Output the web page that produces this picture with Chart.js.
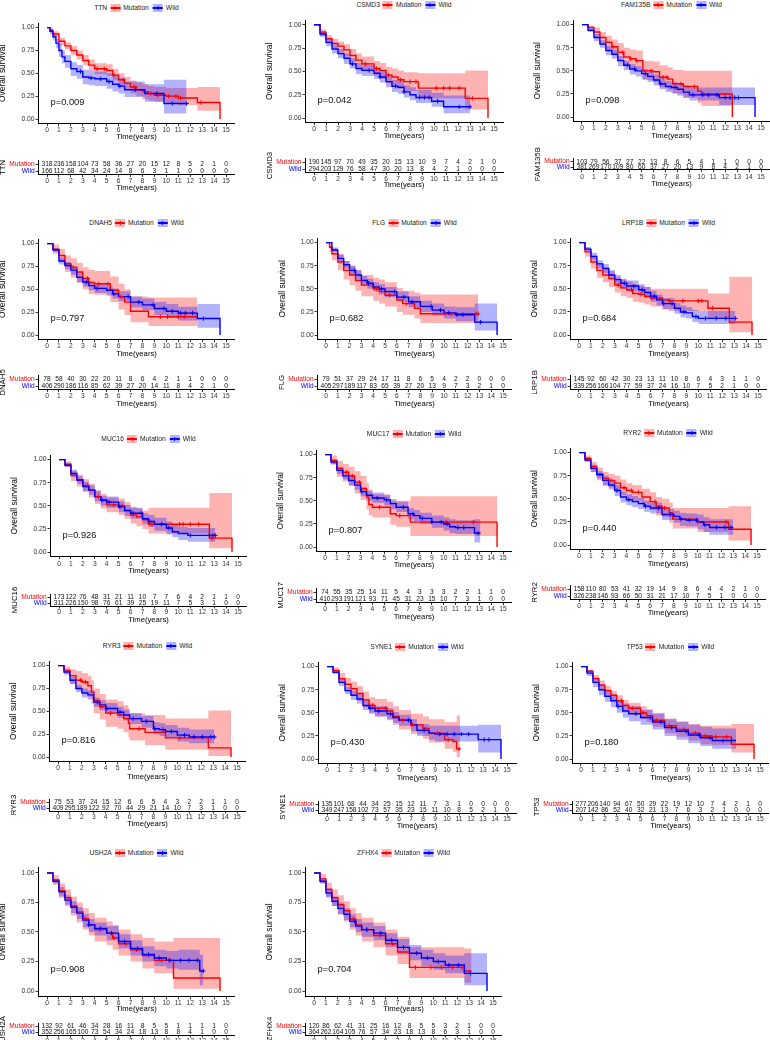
<!DOCTYPE html>
<html><head><meta charset="utf-8">
<script src="https://cdn.jsdelivr.net/npm/chart.js@4.4.1/dist/chart.umd.min.js"></script>
<style>
html,body{margin:0;padding:0;background:#fff;}
body{width:770px;height:1040px;overflow:hidden;position:relative;font-family:"Liberation Sans",Arial,sans-serif;}
canvas{position:absolute;}
.leg{position:absolute;display:flex;align-items:center;white-space:nowrap;font-size:6.7px;color:#222;transform:translate(-50%,-50%);line-height:1;}
.sw{position:relative;display:inline-block;width:10px;height:8px;margin:0 3px 0 3px;}
.sw::before{content:"";position:absolute;left:0;right:0;top:3.4px;height:1.3px;}
.sw::after{content:"";position:absolute;left:4.4px;width:1px;top:2px;height:4px;}
.sw.r{background:rgba(255,0,0,0.3);} .sw.r::before,.sw.r::after{background:#f00;}
.sw.b{background:rgba(0,0,255,0.3);margin-left:4px;} .sw.b::before,.sw.b::after{background:#00f;}
</style>
</head><body>
<script>
// ---------------- DATA ----------------
const years = [0,1,2,3,4,5,6,7,8,9,10,11,12,13,14,15];
const yTicks = [0,0.25,0.5,0.75,1];
const genes = ['TTN','CSMD3','FAM135B','DNAH5','FLG','LRP1B','MUC16','MUC17','RYR2','RYR3','SYNE1','TP53','USH2A','ZFHX4'];
const pValues = ['0.009','0.042','0.098','0.797','0.682','0.684','0.926','0.807','0.440','0.816','0.430','0.180','0.908','0.704'];

// numbers at risk
const risk_TTN_mut = [318,236,158,104,73,58,36,27,20,15,12,8,5,2,1,0];
const risk_TTN_wild = [166,112,68,42,34,24,14,8,6,3,1,1,0,0,0,0];
const risk_CSMD3_mut = [190,145,97,70,49,35,20,15,13,10,9,7,4,2,1,0];
const risk_CSMD3_wild = [294,203,129,76,58,47,30,20,13,8,4,2,1,0,0,0];
const risk_FAM135B_mut = [103,79,56,37,27,22,13,8,6,5,4,1,1,0,0,0];
const risk_FAM135B_wild = [381,269,170,109,80,60,37,27,20,13,9,8,4,2,1,0];
const risk_DNAH5_mut = [78,58,40,30,22,20,11,8,6,4,2,1,1,0,0,0];
const risk_DNAH5_wild = [406,290,186,116,85,62,39,27,20,14,11,8,4,2,1,0];
const risk_FLG_mut = [79,51,37,29,24,17,11,8,6,5,4,2,2,0,0,0];
const risk_FLG_wild = [405,297,189,117,83,65,39,27,20,13,9,7,3,2,1,0];
const risk_LRP1B_mut = [145,92,60,42,30,23,13,11,10,8,6,4,3,1,1,0];
const risk_LRP1B_wild = [339,256,166,104,77,59,37,24,16,10,7,5,2,1,0,0];
const risk_MUC16_mut = [173,122,76,48,31,21,11,10,7,7,6,4,2,1,1,0];
const risk_MUC16_wild = [311,226,150,98,76,61,39,25,19,11,7,5,3,1,0,0];
const risk_MUC17_mut = [74,55,35,25,14,11,5,4,3,3,3,2,2,1,1,0];
const risk_MUC17_wild = [410,293,191,121,93,71,45,31,23,15,10,7,3,1,0,0];
const risk_RYR2_mut = [158,110,80,53,41,32,19,14,9,8,6,4,4,2,1,0];
const risk_RYR2_wild = [326,238,146,93,66,50,31,21,17,10,7,5,1,0,0,0];
const risk_RYR3_mut = [75,53,37,24,15,12,6,6,5,4,3,2,2,1,1,0];
const risk_RYR3_wild = [409,295,189,122,92,70,44,29,21,14,10,7,3,1,0,0];
const risk_SYNE1_mut = [135,101,68,44,34,25,15,12,11,7,3,1,0,0,0,0];
const risk_SYNE1_wild = [349,247,158,102,73,57,35,23,15,11,10,8,5,2,1,0];
const risk_TP53_mut = [277,206,140,94,67,50,29,22,19,12,10,7,4,2,1,0];
const risk_TP53_wild = [207,142,86,52,40,32,21,13,7,6,3,2,1,0,0,0];
const risk_USH2A_mut = [132,92,61,46,34,28,16,11,8,5,5,1,1,1,1,0];
const risk_USH2A_wild = [352,256,165,100,73,54,34,24,18,13,8,8,4,1,0,0];
const risk_ZFHX4_mut = [120,86,62,41,31,25,16,12,8,5,5,3,2,1,0,0];
const risk_ZFHX4_wild = [364,262,164,105,76,57,34,23,18,13,8,6,3,1,0,0];

// Kaplan-Meier steps: [time, survival, lower CI, upper CI]
const km_TTN_mut = [[0,1,1,1],[0.25,.97,.95,.99],[0.5,.93,.90,.96],[1,.85,.81,.89],[1.5,.80,.76,.84],[2,.75,.70,.80],[2.5,.70,.65,.75],[3,.64,.59,.70],[3.5,.59,.53,.65],[4,.55,.49,.61],[5,.53,.47,.60],[5.5,.48,.42,.55],[6,.43,.36,.50],[6.5,.39,.32,.46],[7,.35,.28,.42],[7.5,.32,.25,.40],[8,.30,.22,.38],[8.5,.28,.20,.36],[9,.26,.19,.35],[10,.25,.17,.34],[11,.23,.15,.34],[12.6,.18,.09,.35],[14.5,0,.09,.35]];
const km_TTN_wild = [[0,1,1,1],[0.25,.96,.93,.99],[0.5,.90,.86,.94],[0.75,.83,.78,.88],[1,.75,.68,.82],[1.25,.68,.61,.75],[1.5,.63,.56,.70],[2,.55,.47,.62],[2.5,.52,.44,.59],[3,.46,.38,.54],[3.5,.45,.37,.53],[4,.44,.36,.52],[5,.41,.33,.50],[5.5,.38,.30,.47],[6,.36,.28,.45],[6.5,.32,.24,.41],[8.2,.28,.19,.38],[9.8,.17,.06,.43],[11.7,.17,.06,.43]];
const cens_TTN_mut = [4.2,4.8,5.6,6.4,7.3,8.7,9.3,10.2,10.8,11.2,12.9];
const cens_TTN_wild = [2.8,3.7,4.5,5.2,6.1,7.4,9.2,10.5,11.7];

const km_CSMD3_mut = [[0,1,1,1],[0.5,.92,.88,.95],[1,.85,.80,.89],[1.5,.80,.75,.85],[2,.77,.70,.82],[2.5,.73,.66,.79],[3,.67,.60,.74],[3.5,.62,.54,.69],[4,.58,.50,.66],[5,.53,.45,.61],[5.5,.51,.42,.59],[6,.46,.37,.55],[6.5,.44,.35,.53],[7,.41,.31,.51],[7.5,.39,.29,.49],[8.7,.32,.21,.48],[12.6,.21,.09,.51],[14.5,0,.09,.51]];
const km_CSMD3_wild = [[0,1,1,1],[0.5,.90,.87,.93],[1,.81,.77,.85],[1.5,.74,.69,.79],[2,.69,.64,.74],[2.5,.64,.58,.69],[3,.58,.53,.64],[3.5,.53,.47,.59],[4,.51,.45,.57],[5,.48,.42,.54],[5.5,.44,.38,.50],[6,.39,.33,.46],[6.5,.34,.28,.41],[7,.33,.26,.40],[7.5,.28,.22,.35],[8,.25,.19,.33],[8.5,.22,.16,.30],[9.8,.18,.12,.27],[10.8,.12,.05,.24],[13,.12,.05,.24]];
const cens_CSMD3_mut = [4.3,5.2,6.2,7.2,8.0,8.5,10.2,10.8,11.3,12.1,13.2];
const cens_CSMD3_wild = [3.2,4.6,5.5,6.8,7.5,8.8,9.2,9.6,10.3,12.1,13];

const km_FAM135B_mut = [[0,1,1,1],[0.5,.97,.94,.99],[1,.92,.87,.97],[1.5,.86,.80,.92],[2,.81,.73,.88],[2.5,.76,.67,.84],[3,.70,.61,.80],[3.5,.65,.55,.75],[4,.63,.53,.73],[4.5,.61,.51,.72],[5.1,.50,.40,.61],[6,.49,.38,.60],[6.5,.43,.32,.56],[7.2,.41,.29,.54],[7.6,.36,.25,.51],[8.5,.33,.21,.50],[9.7,.28,.15,.50],[10,.25,.12,.50],[12.6,0,.12,.50]];
const km_FAM135B_wild = [[0,1,1,1],[0.5,.94,.92,.96],[1,.86,.82,.90],[1.5,.79,.75,.83],[2,.72,.67,.77],[2.5,.68,.63,.73],[3,.61,.55,.66],[3.5,.56,.51,.61],[4,.52,.46,.57],[4.5,.50,.44,.55],[5,.47,.41,.52],[5.5,.44,.38,.49],[6,.40,.34,.46],[6.5,.36,.30,.42],[7,.33,.27,.39],[7.5,.32,.26,.38],[8,.30,.23,.36],[8.5,.27,.21,.34],[9,.24,.18,.32],[11.5,.21,.13,.32],[14.5,0,.13,.32]];
const cens_FAM135B_mut = [2.6,3.4,4.1,4.6,5.8,6.8,7.1,8.3,9.4,10.2];
const cens_FAM135B_wild = [3.8,4.4,5.3,6.6,7.8,9.3,10.1,10.6,11.3,12.0,12.4,12.8,13.1];

const km_DNAH5_mut = [[0,1,1,1],[0.5,.94,.89,.99],[1,.87,.80,.94],[1.5,.78,.69,.87],[2,.74,.63,.84],[2.5,.69,.57,.79],[3,.62,.50,.74],[3.5,.57,.45,.71],[4,.56,.44,.70],[5.3,.49,.36,.64],[6,.42,.28,.56],[6.5,.36,.22,.50],[7,.26,.14,.42],[8.5,.20,.10,.41],[12.6,.20,.10,.41]];
const km_DNAH5_wild = [[0,1,1,1],[0.5,.93,.91,.95],[1,.81,.77,.85],[1.5,.76,.72,.80],[2,.71,.66,.75],[2.5,.63,.58,.68],[3,.58,.53,.63],[3.5,.54,.49,.59],[4,.51,.46,.56],[5,.49,.43,.54],[5.5,.45,.40,.51],[6,.42,.37,.48],[7,.36,.30,.42],[8,.33,.27,.40],[9,.29,.22,.36],[10,.26,.19,.34],[11,.24,.16,.31],[12.6,.18,.08,.34],[14.5,0,.08,.34]];
const cens_DNAH5_mut = [2.2,3.4,4.3,5.1,6.2,9.5,10.1,11.0,11.5];
const cens_DNAH5_wild = [3.3,4.2,5.6,6.8,7.7,8.9,9.8,10.5,11.2,11.6,12.2,13.1];

const km_FLG_mut = [[0,1,1,1],[0.3,.95,.90,.99],[0.5,.88,.81,.95],[1,.79,.70,.88],[1.5,.70,.60,.80],[2,.65,.54,.75],[2.5,.59,.48,.70],[3,.54,.42,.65],[4,.50,.37,.62],[4.5,.47,.34,.60],[5,.43,.31,.57],[6,.38,.25,.51],[6.5,.34,.22,.48],[7.5,.29,.18,.46],[8,.23,.13,.44],[12.9,.23,.13,.44]];
const km_FLG_wild = [[0,1,1,1],[0.5,.92,.90,.94],[1,.83,.79,.87],[1.5,.76,.72,.80],[2,.70,.65,.75],[2.5,.65,.60,.70],[3,.59,.54,.64],[3.5,.56,.50,.61],[4,.52,.47,.57],[4.5,.50,.44,.55],[5,.47,.41,.52],[6,.41,.36,.47],[7,.36,.30,.42],[8,.31,.25,.37],[9,.27,.21,.34],[10,.24,.18,.31],[11,.22,.15,.30],[12.6,.14,.05,.34],[14.5,0,.05,.34]];
const cens_FLG_mut = [4.3,5.4,6.8,10.1,10.6,12.7,12.9];
const cens_FLG_wild = [2.4,3.6,4.7,5.8,6.6,7.3,8.9,9.7,10.4,11.1,11.6,13.1];

const km_LRP1B_mut = [[0,1,1,1],[0.5,.90,.85,.95],[1,.79,.72,.86],[1.5,.70,.62,.78],[2,.65,.57,.73],[2.5,.61,.52,.69],[3,.54,.46,.63],[3.5,.51,.42,.60],[4,.49,.40,.58],[4.5,.45,.36,.55],[5,.44,.35,.53],[5.5,.42,.33,.52],[6,.40,.31,.50],[7,.38,.28,.50],[7.5,.37,.26,.50],[10.8,.29,.18,.45],[12.6,.14,.03,.63],[14.5,0,.03,.63]];
const km_LRP1B_wild = [[0,1,1,1],[0.5,.93,.91,.95],[1,.85,.81,.89],[1.5,.77,.72,.81],[2,.72,.67,.77],[2.5,.65,.60,.70],[3,.60,.54,.65],[3.5,.56,.50,.61],[4,.53,.47,.59],[5,.49,.43,.55],[5.5,.46,.40,.52],[6,.42,.36,.48],[6.5,.38,.32,.44],[7,.34,.28,.40],[8,.29,.23,.35],[8.5,.25,.19,.32],[9,.24,.18,.30],[9.5,.20,.14,.27],[10,.18,.12,.26],[13.1,.18,.12,.26]];
const cens_LRP1B_mut = [3.3,4.4,5.2,6.1,7.6,8.7,10.0,10.3,11.2];
const cens_LRP1B_wild = [3.8,4.6,5.3,6.3,7.1,7.8,8.8,9.8,10.6,11.5,12.3,13.1];

const km_MUC16_mut = [[0,1,1,1],[0.5,.95,.92,.98],[1,.83,.77,.88],[1.5,.78,.71,.84],[2,.72,.65,.79],[2.5,.67,.59,.74],[3,.60,.52,.67],[3.5,.56,.47,.63],[4,.51,.43,.59],[5,.50,.40,.58],[5.5,.45,.36,.54],[6,.40,.31,.49],[6.5,.38,.28,.47],[7,.35,.25,.45],[7.5,.30,.20,.48],[12.6,.15,.04,.64],[14.5,0,.04,.64]];
const km_MUC16_wild = [[0,1,1,1],[0.5,.94,.92,.96],[1,.85,.81,.89],[1.5,.78,.74,.82],[2,.71,.66,.76],[2.5,.67,.62,.72],[3,.60,.55,.66],[3.5,.56,.50,.61],[4,.54,.48,.60],[5,.49,.43,.55],[5.5,.45,.39,.51],[6,.42,.36,.48],[7,.36,.30,.42],[7.5,.33,.27,.40],[8,.30,.23,.37],[9,.26,.19,.33],[9.5,.22,.16,.30],[10,.20,.13,.27],[10.8,.18,.11,.26],[13.1,.18,.11,.26]];
const cens_MUC16_mut = [2.4,3.3,4.6,5.3,7.8,10.1,10.4,11.0,11.7,12.8];
const cens_MUC16_wild = [3.6,4.2,5.1,6.2,6.9,7.6,8.6,9.2,11.0,12.6,12.9,13.1];

const km_MUC17_mut = [[0,1,1,1],[0.5,.94,.89,.99],[1,.85,.76,.93],[1.5,.81,.71,.90],[2,.77,.66,.87],[2.5,.70,.58,.82],[3,.63,.51,.77],[3.5,.54,.41,.69],[3.7,.46,.34,.62],[4,.43,.32,.57],[5.5,.36,.24,.50],[6,.34,.22,.50],[7.2,.27,.12,.55],[14.5,0,.12,.55]];
const km_MUC17_wild = [[0,1,1,1],[0.5,.92,.90,.94],[1,.83,.79,.87],[1.5,.77,.73,.81],[2,.72,.67,.77],[2.5,.67,.62,.72],[3,.60,.55,.65],[3.5,.56,.50,.61],[4,.53,.48,.59],[5,.51,.45,.56],[5.5,.47,.41,.52],[6,.43,.38,.49],[7,.36,.30,.42],[7.5,.34,.28,.40],[8,.31,.25,.37],[9,.27,.21,.34],[10,.25,.18,.32],[10.5,.22,.15,.30],[11,.21,.14,.29],[12.6,.15,.05,.30],[13.1,.15,.05,.30]];
const cens_MUC17_mut = [1.8,2.3,2.9,4.6,6.3,10.2,12.5];
const cens_MUC17_wild = [3.1,4.4,5.2,6.6,7.4,8.2,9.0,9.8,10.3,11.2,11.7,12.9];

const km_RYR2_mut = [[0,1,1,1],[0.5,.94,.91,.97],[1,.85,.79,.90],[1.5,.77,.70,.84],[2,.72,.64,.79],[2.5,.70,.62,.77],[3,.67,.59,.75],[3.5,.62,.54,.71],[4,.59,.50,.67],[4.5,.57,.48,.65],[5.3,.52,.43,.61],[6,.47,.38,.57],[6.5,.42,.32,.52],[7,.40,.30,.50],[7.6,.35,.24,.46],[7.9,.28,.18,.40],[10,.25,.14,.40],[12.6,.17,.05,.42],[14.5,0,.05,.42]];
const km_RYR2_wild = [[0,1,1,1],[0.5,.92,.90,.94],[1,.83,.79,.87],[1.5,.76,.72,.80],[2,.70,.65,.75],[2.5,.65,.60,.70],[3,.59,.53,.65],[3.5,.52,.46,.58],[4,.49,.43,.55],[4.5,.47,.41,.53],[5,.45,.39,.51],[5.5,.42,.36,.48],[6,.40,.34,.46],[7,.33,.27,.39],[8,.31,.24,.37],[8.5,.28,.21,.35],[9,.27,.20,.34],[10,.25,.17,.33],[10.5,.22,.14,.30],[11,.19,.11,.28],[13,.19,.11,.28]];
const cens_RYR2_mut = [2.7,3.8,4.4,5.0,6.4,7.2,10.0,12.4];
const cens_RYR2_wild = [3.2,4.2,5.6,6.7,7.7,8.6,9.3,9.9,10.6,11.6,12.3,12.8];

const km_RYR3_mut = [[0,1,1,1],[0.5,.95,.90,.99],[1,.89,.80,.96],[1.5,.84,.74,.94],[2,.82,.70,.92],[2.5,.78,.66,.89],[2.8,.71,.58,.84],[3,.62,.48,.75],[3.5,.55,.41,.69],[4,.48,.33,.63],[5,.46,.31,.61],[5.5,.42,.27,.57],[5.9,.37,.22,.53],[6,.31,.18,.48],[7.3,.27,.13,.46],[9,.21,.08,.42],[12.6,.10,.01,.51],[14.5,0,.01,.51]];
const km_RYR3_wild = [[0,1,1,1],[0.5,.93,.91,.95],[1,.84,.80,.88],[1.5,.75,.71,.79],[2,.70,.65,.75],[2.5,.68,.63,.73],[3,.60,.55,.65],[3.5,.57,.51,.62],[4,.53,.48,.59],[5,.49,.43,.55],[5.5,.46,.40,.52],[6,.42,.36,.48],[7,.39,.32,.45],[8,.31,.25,.38],[8.5,.30,.23,.37],[9,.28,.21,.35],[10,.24,.17,.32],[11,.22,.15,.30],[13.1,.22,.15,.30]];
const cens_RYR3_mut = [1.9,2.3,3.6,4.4,6.8,10.2];
const cens_RYR3_wild = [3.3,4.1,5.2,6.3,7.4,8.1,8.8,9.5,10.6,11.4,12.1,12.8,13.1];

const km_SYNE1_mut = [[0,1,1,1],[0.5,.96,.93,.99],[1,.87,.82,.93],[1.5,.81,.75,.88],[2,.76,.69,.84],[2.5,.71,.63,.79],[3,.64,.56,.73],[3.5,.58,.50,.67],[4,.55,.46,.65],[5,.52,.42,.62],[5.5,.46,.37,.57],[6,.42,.32,.53],[7,.37,.27,.49],[8,.33,.22,.46],[8.5,.28,.18,.43],[9.8,.21,.11,.40],[10.5,.19,.08,.40],[10.8,.11,.02,.47],[11.1,.11,.02,.47]];
const km_SYNE1_wild = [[0,1,1,1],[0.5,.94,.92,.96],[1,.83,.79,.87],[1.5,.74,.70,.78],[2,.69,.64,.74],[2.5,.65,.60,.70],[3,.58,.53,.64],[3.5,.55,.49,.60],[4,.52,.46,.57],[5,.49,.43,.55],[5.5,.45,.39,.51],[6,.42,.36,.48],[7,.37,.30,.43],[7.5,.31,.25,.38],[8.5,.28,.21,.36],[9,.27,.19,.36],[12.6,.21,.07,.37],[14.5,0,.07,.37]];
const cens_SYNE1_mut = [3.8,4.9,6.3,7.1,8.2,9.2,10.1,11.0];
const cens_SYNE1_wild = [3.6,4.3,5.3,6.8,8.1,9.4,10.0,10.6,11.2,11.8,13.1,13.5];

const km_TP53_mut = [[0,1,1,1],[0.5,.95,.93,.97],[1,.87,.83,.91],[1.5,.80,.75,.85],[2,.74,.69,.79],[2.5,.69,.63,.74],[3,.63,.57,.69],[3.5,.58,.52,.64],[4,.55,.49,.61],[5,.50,.43,.57],[5.5,.47,.40,.54],[6,.42,.35,.50],[7,.36,.28,.44],[8,.32,.24,.41],[9,.28,.20,.38],[10,.25,.16,.36],[11,.24,.15,.36],[12.6,.16,.07,.38],[14.5,0,.07,.38]];
const km_TP53_wild = [[0,1,1,1],[0.5,.93,.90,.96],[1,.83,.78,.88],[1.5,.75,.69,.81],[2,.68,.62,.75],[2.5,.63,.56,.70],[3,.57,.50,.64],[3.5,.52,.45,.60],[4,.49,.41,.57],[5,.45,.37,.53],[6,.40,.32,.49],[7,.34,.25,.43],[8,.30,.21,.40],[9,.26,.17,.37],[10,.23,.14,.35],[11,.20,.11,.33],[13,.20,.11,.33]];
const cens_TP53_mut = [3.4,4.3,5.2,6.3,7.4,8.6,9.6,10.4,11.3,12.2];
const cens_TP53_wild = [3.1,4.6,5.8,6.7,7.6,8.8,9.9,10.8,11.9,12.6];

const km_USH2A_mut = [[0,1,1,1],[0.5,.94,.90,.98],[1,.85,.79,.91],[1.5,.79,.72,.86],[2,.72,.64,.80],[2.5,.67,.58,.75],[3,.61,.52,.70],[3.5,.56,.47,.66],[4,.52,.42,.62],[5,.49,.39,.59],[5.5,.45,.35,.56],[6,.40,.30,.52],[7,.35,.25,.48],[8,.30,.19,.45],[9,.26,.15,.42],[10.6,.11,.02,.45],[14.5,0,.02,.45]];
const km_USH2A_wild = [[0,1,1,1],[0.5,.93,.91,.95],[1,.84,.80,.88],[1.5,.77,.73,.81],[2,.71,.66,.76],[2.5,.66,.61,.71],[3,.60,.54,.65],[3.5,.56,.50,.61],[4,.53,.47,.58],[5,.49,.43,.55],[6,.42,.36,.48],[7,.36,.30,.43],[8,.31,.25,.38],[9,.28,.21,.35],[10,.26,.19,.34],[11,.26,.18,.35],[12.8,.17,.05,.31],[13.1,.17,.05,.31]];
const cens_USH2A_mut = [3.2,4.4,5.6,6.6,7.5,9.6,10.2];
const cens_USH2A_wild = [3.5,4.5,5.4,6.5,7.6,8.5,9.4,10.3,11.2,11.9,12.6,13.1];

const km_ZFHX4_mut = [[0,1,1,1],[0.5,.95,.91,.99],[1,.86,.80,.92],[1.5,.79,.72,.86],[2,.73,.65,.81],[2.5,.68,.59,.76],[3,.61,.52,.70],[3.5,.56,.47,.66],[4,.52,.42,.62],[5,.47,.37,.58],[6,.40,.30,.52],[7,.33,.23,.46],[8,.20,.11,.37],[12.6,.17,.07,.36],[13.2,.17,.07,.36]];
const km_ZFHX4_wild = [[0,1,1,1],[0.5,.93,.91,.95],[1,.83,.79,.87],[1.5,.76,.72,.80],[2,.70,.65,.75],[2.5,.65,.60,.70],[3,.59,.54,.65],[3.5,.55,.50,.61],[4,.52,.46,.58],[5,.49,.43,.55],[6,.43,.37,.49],[7,.37,.31,.44],[8,.32,.26,.39],[9,.28,.21,.35],[10,.25,.18,.32],[11,.22,.15,.30],[12.6,.15,.05,.32],[14.5,0,.05,.32]];
const cens_ZFHX4_mut = [3.3,4.5,5.5,6.6,8.5,9.8,10.7,11.6,12.4];
const cens_ZFHX4_wild = [3.4,4.4,5.6,6.5,7.5,8.6,9.5,10.4,11.3,12.1,13.1];

// lookup table built from the named arrays above
const TABLE = {
  TTN:[km_TTN_mut,km_TTN_wild,cens_TTN_mut,cens_TTN_wild,risk_TTN_mut,risk_TTN_wild],
  CSMD3:[km_CSMD3_mut,km_CSMD3_wild,cens_CSMD3_mut,cens_CSMD3_wild,risk_CSMD3_mut,risk_CSMD3_wild],
  FAM135B:[km_FAM135B_mut,km_FAM135B_wild,cens_FAM135B_mut,cens_FAM135B_wild,risk_FAM135B_mut,risk_FAM135B_wild],
  DNAH5:[km_DNAH5_mut,km_DNAH5_wild,cens_DNAH5_mut,cens_DNAH5_wild,risk_DNAH5_mut,risk_DNAH5_wild],
  FLG:[km_FLG_mut,km_FLG_wild,cens_FLG_mut,cens_FLG_wild,risk_FLG_mut,risk_FLG_wild],
  LRP1B:[km_LRP1B_mut,km_LRP1B_wild,cens_LRP1B_mut,cens_LRP1B_wild,risk_LRP1B_mut,risk_LRP1B_wild],
  MUC16:[km_MUC16_mut,km_MUC16_wild,cens_MUC16_mut,cens_MUC16_wild,risk_MUC16_mut,risk_MUC16_wild],
  MUC17:[km_MUC17_mut,km_MUC17_wild,cens_MUC17_mut,cens_MUC17_wild,risk_MUC17_mut,risk_MUC17_wild],
  RYR2:[km_RYR2_mut,km_RYR2_wild,cens_RYR2_mut,cens_RYR2_wild,risk_RYR2_mut,risk_RYR2_wild],
  RYR3:[km_RYR3_mut,km_RYR3_wild,cens_RYR3_mut,cens_RYR3_wild,risk_RYR3_mut,risk_RYR3_wild],
  SYNE1:[km_SYNE1_mut,km_SYNE1_wild,cens_SYNE1_mut,cens_SYNE1_wild,risk_SYNE1_mut,risk_SYNE1_wild],
  TP53:[km_TP53_mut,km_TP53_wild,cens_TP53_mut,cens_TP53_wild,risk_TP53_mut,risk_TP53_wild],
  USH2A:[km_USH2A_mut,km_USH2A_wild,cens_USH2A_mut,cens_USH2A_wild,risk_USH2A_mut,risk_USH2A_wild],
  ZFHX4:[km_ZFHX4_mut,km_ZFHX4_wild,cens_ZFHX4_mut,cens_ZFHX4_wild,risk_ZFHX4_mut,risk_ZFHX4_wild]
};

// ---------------- LAYOUT (pixel positions of each panel) ----------------
// x of t=0, x of t=15, y of S=1, y of S=0, legend y, table Mutation y, table Wild y, table tick y, table title y, x tick y, x title y
const LAYOUT = [
 [47,226,27,119,8,164,171,179,188,129,137],
 [314,494,24.3,118,5,162,169,178,185,128,136],
 [582,761,24,117,5,161.5,167,177,184,127,136],
 [47,226,243,335,223,379,386,395,404,345,354],
 [326,503,242,335,223,379,386,395,404,345,354],
 [579,758,242,335,223,379,386,395,404,345,354],
 [59,238,459,552,439,597,603,612,620,564,571],
 [325,503,454,547,434,592,599,607,617,555,565],
 [579,757,452,545,433,589,596,603,613,555,564],
 [58,237,665,757,646,802,808,816,824,768,777],
 [327,507,666,759,647,804,810,817,826,769,778],
 [581,760,666,759,647,804,810,817,826,769,778],
 [47,226,872,991,853,1026,1032,1039,1047,1001,1009],
 [314,493,872,991,853,1026,1032,1039,1047,1001,1009]
];

// ---------------- RENDER ----------------
Chart.defaults.font.family = '"Liberation Sans", Arial, sans-serif';
Chart.defaults.animation = false;
const RED = '#ff0000', BLUE = '#0000ff', TICK = '#333333';

function stepAt(rows, t){ let s = rows[0][1]; for (const r of rows) if (r[0] <= t) s = r[1]; return s; }
function series(rows, col){ return rows.map(r => ({x: r[0], y: r[col]})); }

const pvalPlugin = {
  id: 'pval',
  afterDatasetsDraw(chart, args, o){
    const {ctx, scales:{x, y}} = chart;
    ctx.save();
    ctx.font = '9.3px "Liberation Sans", Arial, sans-serif';
    ctx.fillStyle = '#111'; ctx.textAlign = 'left'; ctx.textBaseline = 'middle';
    ctx.fillText(o.text, x.getPixelForValue(0.3), y.getPixelForValue(0.185));
    ctx.restore();
  }
};
const riskPlugin = {
  id: 'risk',
  afterDatasetsDraw(chart, args, o){
    const {ctx, chartArea, scales:{x, y}} = chart;
    ctx.save();
    ctx.font = '6.6px "Liberation Sans", Arial, sans-serif';
    ctx.fillStyle = '#111'; ctx.textAlign = 'center'; ctx.textBaseline = 'middle';
    o.rows.forEach((vals, r) => vals.forEach((v, i) => ctx.fillText(String(v), x.getPixelForValue(years[i]), y.getPixelForValue(r) + 0.5)));
    // rotated group title (gene name)
    ctx.translate(chartArea.left - 35, (chartArea.top + chartArea.bottom) / 2);
    ctx.rotate(-Math.PI / 2);
    ctx.font = '7.8px "Liberation Sans", Arial, sans-serif';
    ctx.fillStyle = '#000';
    ctx.fillText(o.title, 0, 0);
    ctx.restore();
  }
};

function addCanvas(left, top, w, h){
  const c = document.createElement('canvas');
  c.width = w; c.height = h;
  c.style.left = left + 'px'; c.style.top = top + 'px';
  c.style.width = w + 'px'; c.style.height = h + 'px';
  document.body.appendChild(c);
  return c;
}

function axisCommon(){
  return {
    border: {display: true, color: '#000', width: 1},
    grid: {display: true, drawOnChartArea: false, drawTicks: true, tickLength: 2.5, color: TICK, lineWidth: 1}
  };
}

function drawPanel(idx){
  const gene = genes[idx];
  const [ox, x15, y1, y0, legY, tMut, tWild, tLab, tTit, xLab, xTit] = LAYOUT[idx];
  const ppy = (x15 - ox) / 15, H = y0 - y1;
  const pl = ox - 0.75 * ppy, pr = ox + 15.75 * ppy;
  const YW = 40;
  const [mut, wild, cm, cw, rMut, rWild] = TABLE[gene];

  // --- KM plot ---
  {
    const pt = y1 - 0.05 * H, pb = y0 + 0.05 * H;
    const left = Math.floor(pl - YW), top = Math.floor(pt) - 4;
    const padL = (pl - YW) - left, padT = pt - top;
    const XH = xTit - pb + 4.8;
    const w = Math.ceil(padL + YW + (pr - pl) + 6), h = Math.ceil(padT + (pb - pt) + XH + 1);
    const padR = w - padL - YW - (pr - pl), padB = h - padT - (pb - pt) - XH;
    const c = addCanvas(left, top, w, h);
    const xPad = Math.max(0, xLab - pb - 2.5 - 3.7);
    const band = (rows, col) => ({data: series(rows, col), stepped: true, borderWidth: 0, pointRadius: 0, tension: 0});
    new Chart(c, {
      type: 'line',
      data: {datasets: [
        {data: cw.map(t => ({x: t, y: stepAt(wild, t)})), showLine: false, pointStyle: 'cross', pointRadius: 2.2, borderColor: BLUE, borderWidth: 1, pointHoverRadius: 0},
        {data: cm.map(t => ({x: t, y: stepAt(mut, t)})), showLine: false, pointStyle: 'cross', pointRadius: 2.2, borderColor: RED, borderWidth: 1, pointHoverRadius: 0},
        {data: series(wild, 1), stepped: true, borderColor: BLUE, borderWidth: 1.4, pointRadius: 0, fill: false},
        {data: series(mut, 1), stepped: true, borderColor: RED, borderWidth: 1.4, pointRadius: 0, fill: false},
        Object.assign(band(wild, 3), {fill: {target: 5}, backgroundColor: 'rgba(0,0,255,0.3)'}),
        Object.assign(band(wild, 2), {fill: false}),
        Object.assign(band(mut, 3), {fill: {target: 7}, backgroundColor: 'rgba(255,0,0,0.3)'}),
        Object.assign(band(mut, 2), {fill: false})
      ]},
      plugins: [pvalPlugin],
      options: {
        responsive: false, animation: false, events: [],
        layout: {padding: {left: padL, top: padT, right: padR, bottom: padB}},
        plugins: {legend: {display: false}, tooltip: {enabled: false}, pval: {text: 'p=' + pValues[idx]}},
        scales: {
          x: Object.assign(axisCommon(), {
            type: 'linear', min: -0.75, max: 15.75,
            afterBuildTicks: s => { s.ticks = years.map(v => ({value: v})); },
            afterFit: s => { s.height = XH; },
            ticks: {autoSkip: false, maxRotation: 0, padding: xPad, color: TICK, font: {size: 6.7}, callback: v => String(v)},
            title: {display: true, text: 'Time(years)', color: '#000', font: {size: 7.7}, padding: 0}
          }),
          y: Object.assign(axisCommon(), {
            type: 'linear', min: -0.05, max: 1.05,
            afterBuildTicks: s => { s.ticks = yTicks.map(v => ({value: v})); },
            afterFit: s => { s.width = YW; },
            ticks: {padding: 1, color: TICK, font: {size: 6.7}, callback: v => Number(v).toFixed(2)},
            title: {display: true, text: 'Overall survival', color: '#000', font: {size: 8.4}, padding: 0}
          })
        }
      }
    });
  }

  // --- risk table ---
  {
    const g = tWild - tMut;
    const T = tMut - g / 2, B = tWild + g / 2;
    const left = Math.floor(pl - YW), top = Math.floor(T) - 16;
    const padL = (pl - YW) - left, padT = T - top;
    const XH = tTit - B + 4.8;
    const w = Math.ceil(padL + YW + (pr - pl) + 6), h = Math.ceil(padT + (B - T) + XH + 1);
    const padR = w - padL - YW - (pr - pl), padB = h - padT - (B - T) - XH;
    const c = addCanvas(left, top, w, h);
    const xPad = Math.max(0, tLab - B - 2.5 - 3.7);
    new Chart(c, {
      type: 'line',
      data: {labels: ['Mutation', 'Wild'], datasets: [{data: [], pointRadius: 0}]},
      plugins: [riskPlugin],
      options: {
        responsive: false, animation: false, events: [],
        layout: {padding: {left: padL, top: padT, right: padR, bottom: padB}},
        plugins: {legend: {display: false}, tooltip: {enabled: false}, risk: {rows: [rMut, rWild], title: gene}},
        scales: {
          x: Object.assign(axisCommon(), {
            type: 'linear', min: -0.75, max: 15.75,
            afterBuildTicks: s => { s.ticks = years.map(v => ({value: v})); },
            afterFit: s => { s.height = XH; },
            ticks: {autoSkip: false, maxRotation: 0, padding: xPad, color: TICK, font: {size: 6.7}, callback: v => String(v)},
            title: {display: true, text: 'Time(years)', color: '#000', font: {size: 7.7}, padding: 0}
          }),
          y: Object.assign(axisCommon(), {
            type: 'category', labels: ['Mutation', 'Wild'], offset: true,
            grid: {display: true, offset: false, drawOnChartArea: false, drawTicks: true, tickLength: 2.5, color: TICK},
            afterFit: s => { s.width = YW; },
            ticks: {autoSkip: false, padding: 1, font: {size: 6.6, lineHeight: 1}, color: c2 => c2.index === 0 ? RED : BLUE},
            title: {display: false}
          })
        }
      }
    });
  }

  // --- legend (HTML text) ---
  const lg = document.createElement('div');
  lg.className = 'leg';
  lg.style.left = ((pl + pr) / 2) + 'px';
  lg.style.top = legY + 'px';
  lg.innerHTML = '<span>' + gene + '</span><span class="sw r"></span><span>Mutation</span><span class="sw b"></span><span>Wild</span>';
  document.body.appendChild(lg);
}

genes.forEach((g, i) => drawPanel(i));
</script>
</body></html>
